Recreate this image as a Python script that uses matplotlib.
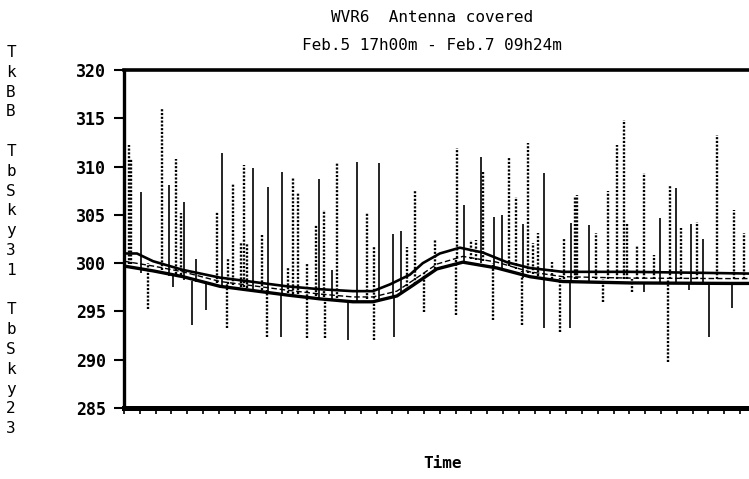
import matplotlib
matplotlib.use("Agg")
import matplotlib.pyplot as plt
import numpy as np

# ---------------- data (hours since Feb.5 17h00m) ----------------
title_line1 = "WVR6  Antenna covered"
title_line2 = "Feb.5 17h00m - Feb.7 09h24m"
series_names = ["TkBB", "TbSky31", "TbSky23"]
x_label = "Time"
y_ticks = [285, 290, 295, 300, 305, 310, 315, 320]
t_end = 40.4

# TkBB (upper smooth curve)
tkbb_t = [0.0, 0.82, 1.84, 3.73, 6.08, 7.97, 10.32, 12.41, 14.49, 15.76, 16.84,
          18.10, 18.92, 20.0, 21.27, 22.72, 24.24, 25.70, 27.78, 32.03, 36.46, 40.38]
tkbb_v = [301.0, 301.0, 300.2, 299.3, 298.5, 298.1, 297.6, 297.3, 297.1, 297.1, 297.8,
          298.8, 300.0, 301.0, 301.6, 301.1, 300.1, 299.5, 299.1, 299.1, 299.0, 298.9]

# baselines of the sky channels
base_t = [0.0, 1.84, 3.73, 6.08, 7.97, 10.32, 12.41, 14.49, 15.76, 17.28, 18.29,
          19.81, 21.46, 23.61, 25.70, 27.78, 32.03, 38.35, 40.38]
sky31_base = [300.2, 299.7, 299.1, 298.1, 297.7, 297.2, 296.8, 296.5, 296.5, 297.1, 298.2,
              299.9, 300.7, 300.1, 299.1, 298.6, 298.45, 298.4, 298.4]
sky23_base = [299.7, 299.2, 298.6, 297.6, 297.2, 296.7, 296.3, 296.0, 296.0, 296.6, 297.7,
              299.4, 300.1, 299.5, 298.6, 298.1, 297.95, 297.9, 297.9]

# TbSky31 spikes (dotted): time, low, high
sky31_spike_t = [0.32, 0.44, 1.52, 2.41, 3.29, 3.61, 5.89, 6.52, 6.58, 6.90, 7.41, 7.59,
                 7.78, 8.73, 9.05, 10.38, 10.70, 11.01, 11.58, 12.15, 12.66, 12.72, 13.48,
                 15.38, 15.82, 17.91, 18.42, 18.99, 19.68, 21.01, 21.08, 21.96, 22.28,
                 22.72, 23.35, 24.37, 24.81, 25.19, 25.57, 25.89, 26.20, 27.09, 27.59,
                 27.85, 28.54, 28.67, 29.87, 30.32, 30.63, 31.20, 31.65, 31.84, 32.15,
                 32.47, 32.91, 33.54, 34.43, 34.56, 35.25, 36.27, 37.53, 38.61, 39.24]
sky31_spike_lo = [299.9, 299.9, 295.2, 299.3, 298.9, 298.8, 297.9, 293.3, 297.8, 297.7,
                  297.5, 297.5, 297.4, 297.2, 292.4, 296.9, 296.8, 296.8, 292.2, 296.6,
                  296.5, 292.2, 296.4, 296.3, 292.0, 297.2, 297.8, 294.9, 299.4, 294.6,
                  300.5, 300.4, 300.3, 300.2, 294.1, 299.7, 299.4, 293.6, 299.0, 298.9,
                  298.7, 298.4, 292.9, 298.4, 298.4, 298.4, 298.4, 296.0, 298.4, 298.4,
                  298.4, 298.4, 297.0, 298.4, 298.4, 298.4, 289.8, 298.4, 298.4, 298.4,
                  298.4, 298.4, 298.4]
sky31_spike_hi = [312.2, 310.8, 300.0, 316.1, 310.8, 305.2, 305.3, 297.9, 300.5, 308.2,
                  302.2, 310.2, 302.1, 302.9, 297.2, 299.5, 308.8, 307.4, 300.0, 304.0,
                  305.5, 296.5, 310.4, 305.2, 301.7, 301.7, 307.6, 299.0, 302.4, 300.5,
                  311.9, 302.4, 302.4, 309.4, 300.0, 311.0, 306.8, 299.2, 312.4, 302.1,
                  303.1, 300.1, 298.5, 302.6, 306.8, 307.1, 303.1, 298.4, 307.5, 312.2,
                  314.8, 304.2, 298.4, 301.9, 309.3, 300.8, 298.4, 308.1, 303.6, 304.3,
                  313.3, 305.5, 303.1]

# TbSky23 spikes (solid): time, low, high
sky23_spike_t = [1.08, 2.85, 3.10, 3.80, 4.30, 4.56, 5.19, 6.20, 8.16, 9.11, 9.94, 10.0,
                 12.34, 13.16, 14.18, 14.75, 16.14, 17.03, 17.09, 17.53, 21.52, 22.59,
                 23.42, 23.92, 25.25, 26.58, 28.23, 28.29, 29.43, 32.90, 33.92, 34.94,
                 35.76, 35.89, 36.65, 37.03, 38.48]
sky23_spike_lo = [299.0, 298.7, 297.5, 298.3, 293.6, 298.0, 295.1, 297.6, 297.0, 296.9,
                  292.4, 296.8, 296.3, 296.2, 292.0, 296.0, 296.1, 296.6, 292.4, 296.9,
                  300.0, 300.0, 299.6, 299.4, 298.5, 293.3, 293.3, 298.1, 298.0, 297.0,
                  298.0, 298.0, 297.2, 298.0, 298.0, 292.4, 295.4]
sky23_spike_hi = [307.4, 308.1, 298.7, 306.3, 298.1, 300.4, 297.8, 311.4, 309.9, 307.9,
                  296.8, 309.4, 308.7, 299.3, 296.0, 310.5, 310.4, 303.0, 296.6, 303.3,
                  306.0, 311.0, 304.8, 305.0, 304.1, 309.3, 298.1, 304.2, 304.0, 298.0,
                  304.7, 307.8, 298.0, 304.1, 302.5, 298.0, 298.0]

# ---------------- figure ----------------
W, H = 749, 479
fig = plt.figure(figsize=(W / 100, H / 100), dpi=100)
ax_left, ax_right, ax_top, ax_bottom = 124, 762, 70, 408
ax = fig.add_axes([ax_left / W, 1 - ax_bottom / H, (ax_right - ax_left) / W,
                   (ax_bottom - ax_top) / H])

mono = "DejaVu Sans Mono"

# spikes
ax.vlines(sky31_spike_t, sky31_spike_lo, sky31_spike_hi, colors="black",
          linestyles=(0, (0.9, 0.7)), linewidth=1.7)
ax.vlines(sky23_spike_t, sky23_spike_lo, sky23_spike_hi, colors="black",
          linestyles="solid", linewidth=1.2)

# smooth curves
ax.plot(base_t, sky31_base, color="black", lw=1.0, ls=(0, (4, 2)))
ax.plot(base_t, sky23_base, color="black", lw=2.4, solid_joinstyle="round")
ax.plot(tkbb_t, tkbb_v, color="black", lw=1.9, solid_joinstyle="round")

ax.set_xlim(0, t_end)
ax.set_ylim(285, 320)
ax.set_yticks(y_ticks)
ax.set_yticklabels([str(v) for v in y_ticks], fontfamily=mono, fontsize=12,
                   fontweight="bold")
ax.set_xticks(np.arange(0, 41, 1))
ax.set_xticklabels([])
ax.tick_params(axis="y", direction="out", length=7, width=1.5, pad=6)
ax.tick_params(axis="x", direction="out", length=4, width=1.2)

ax.spines["left"].set_linewidth(2.4)
ax.spines["top"].set_linewidth(2.6)
ax.spines["bottom"].set_linewidth(3.6)
ax.spines["right"].set_visible(False)

# titles
fig.text(432 / W, 1 - 18 / H, title_line1, ha="center", va="center",
         fontfamily=mono, fontsize=11.5)
fig.text(432 / W, 1 - 45 / H, title_line2, ha="center", va="center",
         fontfamily=mono, fontsize=11.5)
fig.text(443 / W, 1 - 463 / H, x_label, ha="center", va="center",
         fontfamily=mono, fontsize=11.5, fontweight="bold")

# stacked vertical series labels
lines = []
for i, name in enumerate(series_names):
    if i > 0:
        lines.append(" ")
    lines.extend(list(name))
fig.text(11 / W, 1 - 45 / H, "\n".join(lines), ha="center", va="top",
         fontfamily=mono, fontsize=11.5, linespacing=1.40)

fig.savefig("out.png", dpi=100, facecolor="white")
